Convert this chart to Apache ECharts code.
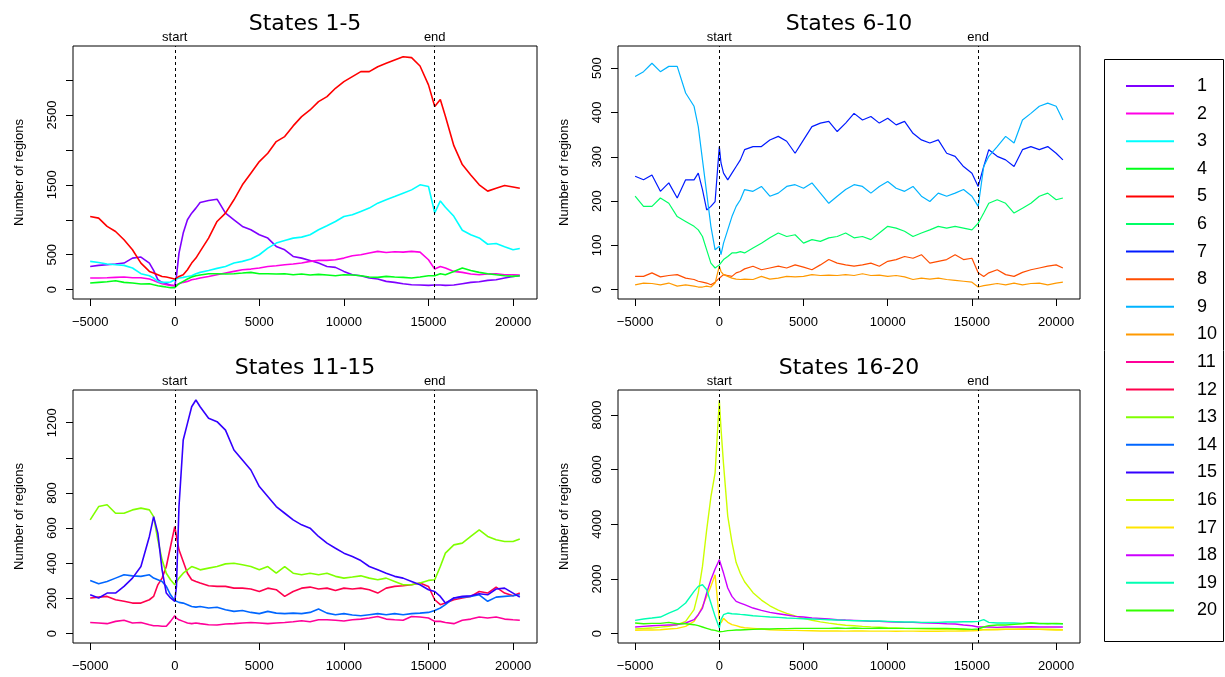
<!DOCTYPE html>
<html><head><meta charset="utf-8">
<script src="https://cdn.jsdelivr.net/npm/echarts@6/dist/echarts.min.js"></script>
<style>html,body{margin:0;padding:0;background:#fff}#c{width:1225px;height:677px}</style>
</head><body><div id="c"></div>
<script>
// Shared x positions (bp relative to start)
const X = [-5000,-4500,-4000,-3500,-3000,-2500,-2000,-1500,-1250,-1000,-750,-500,-250,0,100,250,500,750,1000,1250,1500,2000,2500,3000,3500,4000,4500,5000,5500,6000,6500,7000,7500,8000,8500,9000,9500,10000,10500,11000,11500,12000,12500,13000,13500,14000,14500,15000,15370,15700,16000,16500,17000,17500,18000,18500,19000,19500,20000,20400];

const s1 = [333,348,357,367,381,452,467,381,276,143,105,86,67,57,190,524,810,1000,1095,1167,1248,1276,1295,1095,1000,905,857,786,738,619,571,476,452,419,381,333,319,262,214,200,167,152,119,105,86,71,67,62,67,67,62,67,86,105,114,133,143,167,190,200];
const s2 = [167,167,171,176,181,171,171,152,133,105,86,71,62,57,71,86,105,119,143,152,167,190,214,238,262,286,295,310,333,343,357,367,381,405,419,419,428,452,486,500,524,548,533,543,538,548,538,428,295,333,310,262,248,224,214,224,229,214,214,210];
const s3 = [405,390,367,357,348,310,229,200,167,119,105,105,110,143,152,167,176,190,200,229,248,276,305,333,381,405,438,500,595,667,705,738,752,786,857,914,976,1048,1071,1119,1167,1238,1286,1333,1381,1428,1500,1476,1100,1270,1180,1050,850,786,740,650,660,615,571,590];
const s4 = [95,105,114,129,105,95,81,86,71,57,48,38,29,29,48,86,119,152,181,200,210,229,229,224,229,238,248,229,229,224,229,214,224,210,219,210,200,214,210,200,181,176,190,181,176,167,181,200,200,229,214,262,310,276,248,229,214,200,190,200];
const s5 = [1048,1024,905,833,714,571,381,262,238,214,190,181,167,152,160,190,214,286,381,452,548,738,976,1095,1286,1500,1667,1833,1952,2119,2190,2343,2476,2571,2690,2762,2881,2976,3048,3119,3119,3190,3238,3286,3333,3320,3200,2930,2620,2720,2480,2060,1790,1640,1500,1410,1450,1490,1470,1450];
const s6 = [211,188,188,207,195,165,154,143,135,120,90,60,49,56,60,68,75,83,83,86,83,94,105,117,128,120,124,105,113,109,117,120,128,117,120,113,128,143,139,132,120,128,135,143,139,143,139,135,150,173,195,203,195,173,184,195,211,218,203,207];
const s7 = [256,248,259,222,241,207,248,248,263,226,180,188,199,323,286,263,248,263,278,293,316,323,323,338,346,335,308,338,368,376,380,357,376,398,383,391,376,387,372,380,353,338,331,338,308,301,278,263,233,278,316,301,293,278,316,323,316,323,308,293];
const s8 = [30,30,38,29,32,34,26,23,19,17,15,11,17,26,30,34,32,30,38,41,47,53,45,49,53,49,56,51,45,56,68,60,56,53,56,60,53,64,68,75,71,79,60,64,68,79,68,71,38,30,38,45,34,30,39,45,49,53,56,49];
const s9 = [481,492,511,492,504,504,444,414,368,293,218,143,90,98,79,105,135,165,188,203,226,222,233,211,218,233,237,229,241,218,195,211,226,237,233,218,233,244,229,222,233,211,199,218,211,218,226,211,188,278,301,323,346,331,383,398,414,421,414,383];
const s10 = [11,15,14,11,15,8,11,8,6,6,8,6,15,53,41,34,30,26,24,23,24,23,30,24,26,30,29,30,34,32,33,32,34,32,36,32,33,30,32,29,23,26,24,26,23,21,19,17,6,9,11,14,11,15,11,14,15,11,15,17];
const s11 = [64,61,57,70,76,61,64,51,45,45,42,42,70,102,89,79,70,61,57,61,57,51,49,55,57,61,64,61,57,61,64,68,74,68,79,79,76,72,79,83,89,98,83,79,76,98,95,89,70,70,64,57,76,83,95,89,95,83,79,76];
const s12 = [203,208,212,193,184,174,174,193,212,278,316,382,496,609,553,477,411,344,307,297,288,273,269,269,259,259,254,240,259,250,212,240,259,265,254,259,246,259,254,259,250,231,259,269,273,278,288,269,193,165,174,193,203,212,240,231,265,231,216,231];
const s13 = [647,723,733,685,685,704,714,704,666,534,420,344,307,278,288,316,344,363,382,373,363,373,382,397,401,392,382,363,382,344,382,344,335,344,335,344,326,316,322,329,316,307,316,297,278,278,288,303,307,382,458,505,515,553,591,553,534,524,524,538];
const s14 = [303,284,297,316,335,329,326,335,316,307,297,269,221,189,184,178,174,165,155,151,155,146,150,136,127,132,121,114,127,117,114,117,114,121,140,117,108,114,106,102,108,114,108,114,108,114,117,121,132,146,165,203,208,212,221,184,208,212,216,221];
const s15 = [221,203,231,231,269,316,382,553,666,572,363,231,203,184,269,723,1102,1196,1291,1329,1291,1225,1206,1158,1045,988,931,837,780,723,685,647,619,600,553,515,486,458,439,416,382,363,344,326,316,297,278,250,240,212,174,203,212,216,227,221,254,259,231,208];
const s16 = [170,190,205,240,270,330,450,880,1490,2460,3800,5000,5880,8550,7500,6200,4300,3350,2600,2200,1900,1500,1230,1020,860,740,650,560,490,430,385,345,310,290,268,250,235,220,208,195,185,175,168,160,155,150,145,140,135,150,155,160,160,165,160,165,160,160,155,150];
const s17 = [122,134,134,146,171,195,268,451,694,999,1364,1730,2156,512,390,560,414,329,292,244,219,195,171,146,134,122,122,110,105,100,98,100,95,100,98,95,92,95,90,95,92,90,88,90,92,95,100,105,110,146,146,146,158,158,171,158,158,146,134,134];
const s18 = [244,268,292,305,317,329,390,512,694,938,1486,1973,2363,2704,2643,2217,1669,1364,1181,1121,1060,938,853,780,731,682,633,609,572,560,536,512,499,487,475,451,451,438,426,414,414,402,390,378,365,353,317,292,244,244,244,231,244,244,244,256,244,244,244,244];
const s19 = [487,536,572,609,755,877,1121,1547,1730,1790,1608,1121,633,207,512,694,755,731,719,706,694,658,633,609,597,572,560,548,536,524,512,499,487,475,475,463,463,451,438,426,426,414,414,414,426,426,438,438,451,512,414,390,390,390,378,390,365,378,365,365];
const s20 = [390,365,378,378,414,365,365,329,292,244,195,146,122,73,61,85,110,122,134,134,146,158,171,171,183,183,195,195,195,195,195,207,195,207,195,195,207,195,195,195,195,195,195,195,195,183,171,158,171,244,292,317,317,341,365,390,378,365,378,365];

const stateColors = ['#7F00FF','#FF00E6','#00FFFF','#00FF19','#FF0000','#00FF66','#001AFF','#FF4D00','#00B3FF','#FF9900','#FF0099','#FF004D','#80FF00','#0066FF','#3300FF','#CCFF00','#FFE500','#CC00FF','#00FFB2','#33FF00'];
const stateNames = ['1','2','3','4','5','6','7','8','9','10','11','12','13','14','15','16','17','18','19','20'];
const panelTitles = ['States 1-5','States 6-10','States 11-15','States 16-20'];
const xTicks = [-5000,0,5000,10000,15000,20000];
const markPos = [0, 15370];
const markLabels = ['start','end'];
const yTicks = [[0,500,1000,1500,2000,2500,3000],[0,100,200,300,400,500],[0,200,400,600,800,1000,1200],[0,2000,4000,6000,8000]];
const yLabels = [[0,500,1500,2500],[0,100,200,300,400,500],[0,200,400,600,800,1200],[0,2000,4000,6000,8000]];
const yRange = [[-133,3486],[-21,550],[-53,1386],[-341,8913]];
const allSeries = [s1,s2,s3,s4,s5,s6,s7,s8,s9,s10,s11,s12,s13,s14,s15,s16,s17,s18,s19,s20];

const grids = [
  {left:73, top:46, width:464, height:253},
  {left:618, top:46, width:462, height:253},
  {left:73, top:390, width:464, height:253},
  {left:618, top:390, width:462, height:253}
];
const lineW = [1.6, 1.2, 1.6, 1.4];
const XMIN = -6016, XMAX = 21416;
const fam = 'Liberation Sans, Arial, sans-serif';
const fmtNum = v => String(v).replace('-', '\u2212');

const xAxes = [], yAxes = [], titles = [], series = [];
grids.forEach((g, i) => {
  xAxes.push({type:'value', gridIndex:i, min:XMIN, max:XMAX, position:'bottom',
    axisLine:{show:false, onZero:false}, splitLine:{show:false},
    axisTick:{show:true, length:7, customValues:xTicks, lineStyle:{color:'#000', width:1}},
    axisLabel:{customValues:xTicks, formatter:fmtNum, fontSize:13, margin:17, color:'#000', fontFamily:fam}});
  xAxes.push({type:'value', gridIndex:i, min:XMIN, max:XMAX, position:'top',
    axisLine:{show:false, onZero:false}, splitLine:{show:false}, axisTick:{show:false},
    axisLabel:{customValues:markPos, formatter:v => markLabels[markPos.indexOf(v)] || '', fontSize:13, margin:2, color:'#000', fontFamily:fam}});
  yAxes.push({type:'value', gridIndex:i, min:yRange[i][0], max:yRange[i][1], position:'left',
    axisLine:{show:false, onZero:false}, splitLine:{show:false},
    axisTick:{show:true, length:7, customValues:yTicks[i], lineStyle:{color:'#000', width:1}},
    axisLabel:{customValues:yLabels[i], formatter:fmtNum, rotate:90, fontSize:13, margin:14, color:'#000', fontFamily:fam},
    name:'Number of regions', nameLocation:'middle', nameGap:47, nameRotate:90,
    nameTextStyle:{fontSize:13, color:'#000', fontFamily:fam}});
  titles.push({text:panelTitles[i], left:g.left + g.width/2, top:g.top - 33, textAlign:'center', padding:0,
    textStyle:{fontFamily:'DejaVu Sans', fontSize:22, fontWeight:'normal', color:'#000'}});
  for (let k = 0; k < 5; k++) {
    const idx = i*5 + k;
    const vals = allSeries[idx];
    const s = {type:'line', name:stateNames[idx], xAxisIndex:i*2, yAxisIndex:i,
      data: X.map((x, j) => [x, vals[j]]), showSymbol:false, symbol:'none', animation:false,
      lineStyle:{color:stateColors[idx], width:lineW[i]}, itemStyle:{color:stateColors[idx]}};
    if (k === 0) {
      s.markLine = {silent:true, symbol:['none','none'], label:{show:false}, animation:false,
        lineStyle:{color:'#000', type:[3,3], width:1},
        data: markPos.map(p => ({xAxis:p}))};
    }
    series.push(s);
  }
});

const chart = echarts.init(document.getElementById('c'), null, {renderer:'canvas'});
chart.setOption({
  animation:false,
  backgroundColor:'#fff',
  title: titles,
  grid: grids.map(g => Object.assign({show:true, borderColor:'#000', borderWidth:1, backgroundColor:'transparent'}, g)),
  xAxis: xAxes,
  yAxis: yAxes,
  legend: {orient:'vertical', left:1126, top:76, itemWidth:48, itemHeight:2, icon:'rect', itemGap:7.6, padding:0,
    selectedMode:false, data:stateNames,
    textStyle:{fontSize:18, lineHeight:20, fontFamily:fam, color:'#000', padding:[0,0,0,18]}},
  graphic: [{type:'rect', left:1102, top:57, shape:{width:119, height:582}, style:{fill:'none', stroke:'#000', lineWidth:1}}],
  series: series
});
</script></body></html>
